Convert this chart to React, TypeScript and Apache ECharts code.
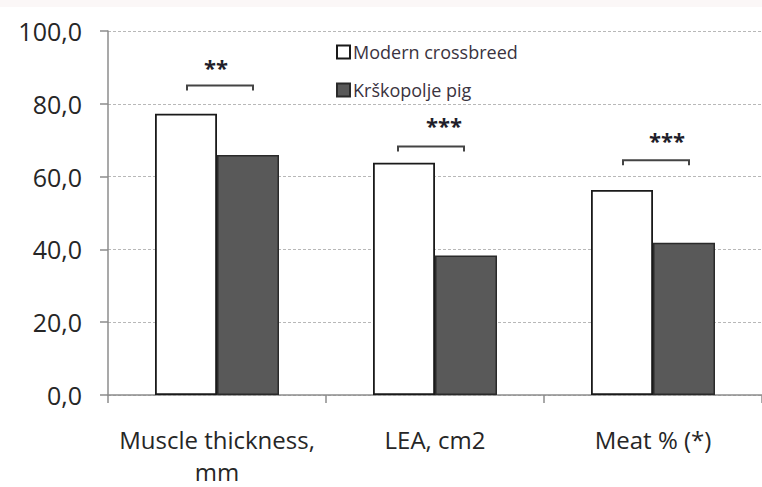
import React, { useEffect, useRef } from "react";
import * as echarts from "echarts";

const categories = ["Muscle thickness,\nmm", "LEA, cm2", "Meat % (*)"];
const modernCrossbreed = [77.3, 63.8, 56.3];
const krskopoljePig = [65.9, 38.3, 41.8];
const seriesNames = ["Modern crossbreed", "Krškopolje pig"];
const yTicks = [0, 20, 40, 60, 80, 100];

// significance markers: [category index, bracket level, star level, label]
const significance: [number, number, number, string][] = [
  [0, 85.0, 90.0, "**"],
  [1, 68.3, 74.3, "***"],
  [2, 64.5, 70.0, "***"],
];

const FONT = "'Open Sans', 'DejaVu Sans', sans-serif";

export default function App() {
  const ref = useRef<HTMLDivElement>(null);

  useEffect(() => {
    if (!ref.current) return;
    const chart = echarts.init(ref.current, undefined, { renderer: "svg" });

    // horizontal nudges (px) of brackets and star labels
    const bracketShift = [3, -4, 3];
    const starShift = [-1, 9, 14];

    chart.setOption({
      animation: false,
      backgroundColor: "#ffffff",
      textStyle: { fontFamily: FONT },
      grid: { left: 108, right: 0, top: 31, bottom: 90, containLabel: false },
      graphic: [
        {
          type: "rect",
          left: 0,
          top: 0,
          shape: { width: 762, height: 7 },
          style: { fill: "#fbf7f7" },
          silent: true,
        },
      ],
      legend: {
        data: seriesNames,
        orient: "vertical",
        left: 331,
        top: 38,
        itemGap: 20,
        itemWidth: 13,
        itemHeight: 13,
        icon: "rect",
        textStyle: { fontFamily: FONT, fontSize: 18, color: "#3a3340", padding: [0, 0, 0, -2] },
      },
      xAxis: {
        type: "category",
        data: categories,
        axisLine: { lineStyle: { color: "#8c8c8c", width: 1.5 } },
        axisTick: { show: true, length: 8, lineStyle: { color: "#8c8c8c", width: 1.5 } },
        axisLabel: {
          interval: 0,
          hideOverlap: false,
          fontFamily: FONT,
          fontSize: 24,
          color: "#262626",
          margin: 28,
          lineHeight: 32,
        },
      },
      yAxis: {
        type: "value",
        min: 0,
        max: 100,
        interval: 20,
        axisLine: { show: true, lineStyle: { color: "#8c8c8c", width: 1.5 } },
        axisTick: { show: true, length: 8, lineStyle: { color: "#8c8c8c", width: 1.5 } },
        splitLine: { lineStyle: { color: "#b8b8b8", type: [3, 2], width: 1 } },
        axisLabel: {
          fontFamily: FONT,
          fontSize: 25,
          color: "#262626",
          margin: 26,
          formatter: (v: number) =>
            yTicks.includes(v) ? v.toFixed(1).replace(".", ",") : "",
        },
      },
      series: [
        {
          name: seriesNames[0],
          type: "bar",
          data: modernCrossbreed,
          barWidth: 62,
          barGap: "0%",
          itemStyle: { color: "#ffffff", borderColor: "#1a1a1a", borderWidth: 1.8 },
        },
        {
          name: seriesNames[1],
          type: "bar",
          data: krskopoljePig,
          barWidth: 62,
          barGap: "0%",
          itemStyle: { color: "#595959", borderColor: "#2a2a2a", borderWidth: 1.5 },
        },
        {
          type: "custom",
          silent: true,
          z: 5,
          data: significance.map((s) => [s[0], s[1], s[2]]),
          renderItem: (params: any, api: any) => {
            const i = params.dataIndex;
            const idx = api.value(0);
            const base = api.coord([idx, api.value(1)]);
            const top = api.coord([idx, api.value(2)]);
            const x = base[0] + bracketShift[i];
            const y = base[1];
            const half = 33;
            const label = significance[i][3];
            return {
              type: "group",
              children: [
                {
                  type: "polyline",
                  shape: {
                    points: [
                      [x - half, y + 5],
                      [x - half, y],
                      [x + half, y],
                      [x + half, y + 5],
                    ],
                  },
                  style: { stroke: "#444444", lineWidth: 2, fill: null },
                },
                {
                  type: "text",
                  x: top[0] + starShift[i],
                  y: top[1],
                  style: {
                    text: label,
                    font: `bold 22px ${FONT}`,
                    fill: "#1f1f2a",
                    textAlign: "center",
                    textVerticalAlign: "middle",
                  },
                },
              ],
            };
          },
        },
      ],
    });

    return () => chart.dispose();
  }, []);

  return (
    <div
      ref={ref}
      style={{ position: "fixed", left: 0, top: 0, width: 762, height: 487 }}
    />
  );
}
